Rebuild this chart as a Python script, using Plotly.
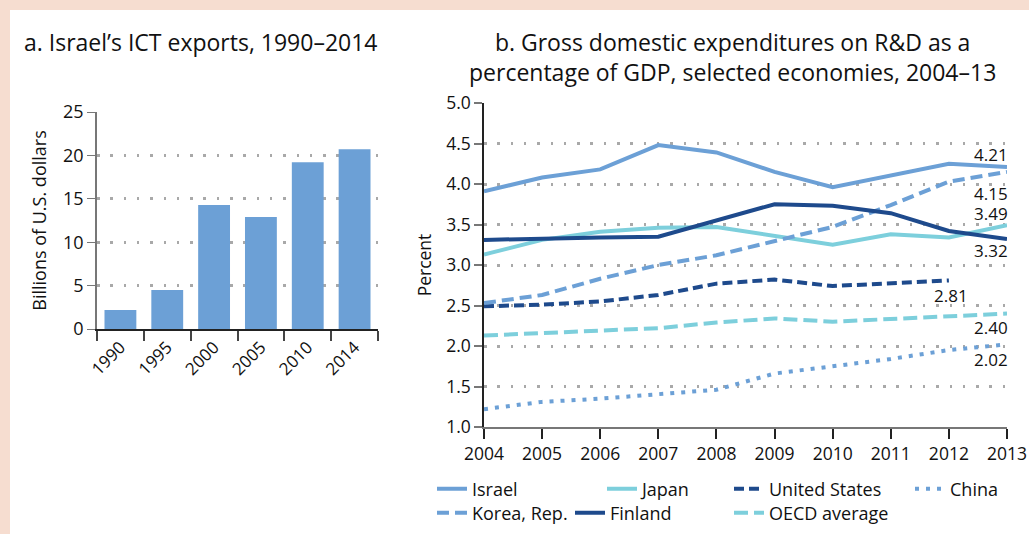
import plotly.graph_objects as go

# ---- Panel a: Israel's ICT exports (billions of U.S. dollars)
export_years = ["1990", "1995", "2000", "2005", "2010", "2014"]
export_values = [2.2, 4.5, 14.3, 12.9, 19.2, 20.7]

# ---- Panel b: GERD as % of GDP
rd_years = [2004, 2005, 2006, 2007, 2008, 2009, 2010, 2011, 2012, 2013]
israel = [3.91, 4.08, 4.18, 4.48, 4.39, 4.15, 3.96, 4.10, 4.25, 4.21]
korea = [2.53, 2.63, 2.83, 3.00, 3.12, 3.29, 3.47, 3.74, 4.03, 4.15]
japan = [3.13, 3.31, 3.41, 3.46, 3.47, 3.36, 3.25, 3.38, 3.34, 3.49]
finland = [3.31, 3.33, 3.34, 3.35, 3.55, 3.75, 3.73, 3.64, 3.42, 3.32]
united_states = [2.49, 2.51, 2.55, 2.63, 2.77, 2.82, 2.74, 2.77, 2.81]
oecd = [2.13, 2.16, 2.19, 2.22, 2.29, 2.34, 2.30, 2.33, 2.37, 2.40]
china = [1.22, 1.31, 1.35, 1.40, 1.46, 1.66, 1.75, 1.84, 1.95, 2.02]

W, H = 1029, 534
FONT = "Open Sans"
TXT = "#111111"
MID = "#6CA0D6"
LIGHT = "#7DCFDC"
DARK = "#1E4A8C"
PINK = "#F6DDD0"
GRID = "#A9A9A9"


def px_x(p):
    return p / W


def px_y(p):
    return 1 - p / H


fig = go.Figure()

fig.add_trace(go.Bar(
    x=export_years, y=export_values, marker=dict(color=MID, line=dict(width=0)),
    xaxis="x", yaxis="y", showlegend=False, hoverinfo="skip",
))

series = [
    ("Israel", rd_years, israel, MID, "solid", "legend"),
    ("Japan", rd_years, japan, LIGHT, "solid", "legend2"),
    ("United States", rd_years[:len(united_states)], united_states, DARK, "10px,5px", "legend3"),
    ("China", rd_years, china, MID, "4px,7px", "legend4"),
    ("Korea, Rep.", rd_years, korea, MID, "12px,6px", "legend5"),
    ("Finland", rd_years, finland, DARK, "solid", "legend6"),
    ("OECD average", rd_years, oecd, LIGHT, "14px,6px", "legend7"),
]
for name, xs, ys, color, dash, leg in series:
    fig.add_trace(go.Scatter(
        x=xs, y=ys, mode="lines", name=name,
        line=dict(color=color, width=4, dash=dash),
        xaxis="x2", yaxis="y2", legend=leg, hoverinfo="skip",
    ))

LABEL_SIZE = 17
# end-of-line value labels
end_labels = [
    (rd_years[-1], israel[-1], 3, 12),
    (rd_years[-1], korea[-1], 3, -22),
    (rd_years[-1], japan[-1], 3, 12),
    (rd_years[-1], finland[-1], 3, -11),
    (rd_years[-1], oecd[-1], 3, -14),
    (rd_years[-1], china[-1], 3, -15),
]
annotations = []
for xv, yv, xs, ys in end_labels:
    annotations.append(dict(
        x=xv, y=yv, xref="x2", yref="y2", text=f"{yv:.2f}", showarrow=False,
        xanchor="right", yanchor="middle", xshift=xs, yshift=ys,
        font=dict(family=FONT, size=LABEL_SIZE, color=TXT),
    ))
annotations.append(dict(
    x=rd_years[len(united_states) - 1], y=united_states[-1], xref="x2", yref="y2",
    text=f"{united_states[-1]:.2f}", showarrow=False, xanchor="center",
    yanchor="middle", xshift=2, yshift=-15,
    font=dict(family=FONT, size=LABEL_SIZE, color=TXT),
))

# titles
annotations.append(dict(
    x=px_x(22), y=px_y(42), xref="paper", yref="paper", xanchor="left",
    yanchor="middle", showarrow=False, text="a. Israel’s ICT exports, 1990–2014",
    font=dict(family=FONT, size=23, color=TXT),
))
annotations.append(dict(
    x=px_x(732), y=px_y(57.5), xref="paper", yref="paper", xanchor="center",
    yanchor="middle", showarrow=False,
    text="b. Gross domestic expenditures on R&D as a<br>percentage of GDP, selected economies, 2004–13",
    font=dict(family=FONT, size=23, color=TXT), align="center",
))

grid_common = dict(showgrid=True, gridcolor=GRID, gridwidth=2.5, griddash="2.5px,10.8px")

legend_pos = {
    "legend": (432, 489), "legend2": (602, 489), "legend3": (729, 489),
    "legend4": (910, 489), "legend5": (432, 513), "legend6": (570, 513),
    "legend7": (729, 513),
}
legend_layout = {}
for key, (lx, ly) in legend_pos.items():
    legend_layout[key] = dict(
        x=px_x(lx), y=px_y(ly), xanchor="left", yanchor="middle",
        orientation="h", bgcolor="rgba(0,0,0,0)", borderwidth=0,
        font=dict(family=FONT, size=18, color=TXT), itemwidth=30,
        tracegroupgap=0,
    )

fig.update_layout(
    width=W, height=H,
    margin=dict(l=0, r=0, t=0, b=0, autoexpand=False),
    paper_bgcolor=PINK, plot_bgcolor="rgba(0,0,0,0)",
    font=dict(family=FONT, color=TXT),
    bargap=0.32,
    showlegend=True,
    annotations=annotations,
    shapes=[dict(type="rect", xref="paper", yref="paper", x0=px_x(10), x1=1.0,
                 y0=0.0, y1=px_y(10), fillcolor="white", line=dict(width=0),
                 layer="below")],
    xaxis=dict(
        domain=[px_x(97), px_x(378)], anchor="y", type="category",
        showline=True, linecolor="#222222", linewidth=1.5,
        ticks="outside", tickson="boundaries", ticklen=10, tickcolor="#444444",
        tickwidth=1.5, tickangle=-45, showgrid=False,
        tickfont=dict(family=FONT, size=17, color=TXT),
    ),
    yaxis=dict(
        domain=[px_y(329), px_y(112)], anchor="x", range=[0, 25],
        tickvals=[0, 5, 10, 15, 20, 25], showline=True, linecolor="#777777",
        linewidth=1.5, ticks="outside", ticklen=8, tickcolor="#777777",
        zeroline=False, tickfont=dict(family=FONT, size=18, color=TXT),
        title=dict(text="Billions of U.S. dollars", standoff=12,
                   font=dict(family=FONT, size=18, color=TXT)),
        **grid_common,
    ),
    xaxis2=dict(
        domain=[px_x(484), px_x(1007)], anchor="y2", range=[2004, 2013],
        tickvals=rd_years, showline=True, linecolor="#777777", linewidth=1.5,
        ticks="outside", ticklen=10, tickcolor="#222222", tickwidth=1.5,
        showgrid=False, zeroline=False,
        tickfont=dict(family=FONT, size=17.5, color=TXT),
    ),
    yaxis2=dict(
        domain=[px_y(427), px_y(103)], anchor="x2", range=[1.0, 5.0],
        tickvals=[1.0, 1.5, 2.0, 2.5, 3.0, 3.5, 4.0, 4.5, 5.0], tickformat=".1f",
        showline=True, linecolor="#222222", linewidth=1.5, ticks="outside",
        ticklen=8, tickcolor="#777777", tickwidth=1.5, zeroline=False,
        tickfont=dict(family=FONT, size=17.5, color=TXT),
        title=dict(text="Percent", standoff=10,
                   font=dict(family=FONT, size=17.5, color=TXT)),
        **grid_common,
    ),
    **legend_layout,
)

fig.write_html("out.html")
